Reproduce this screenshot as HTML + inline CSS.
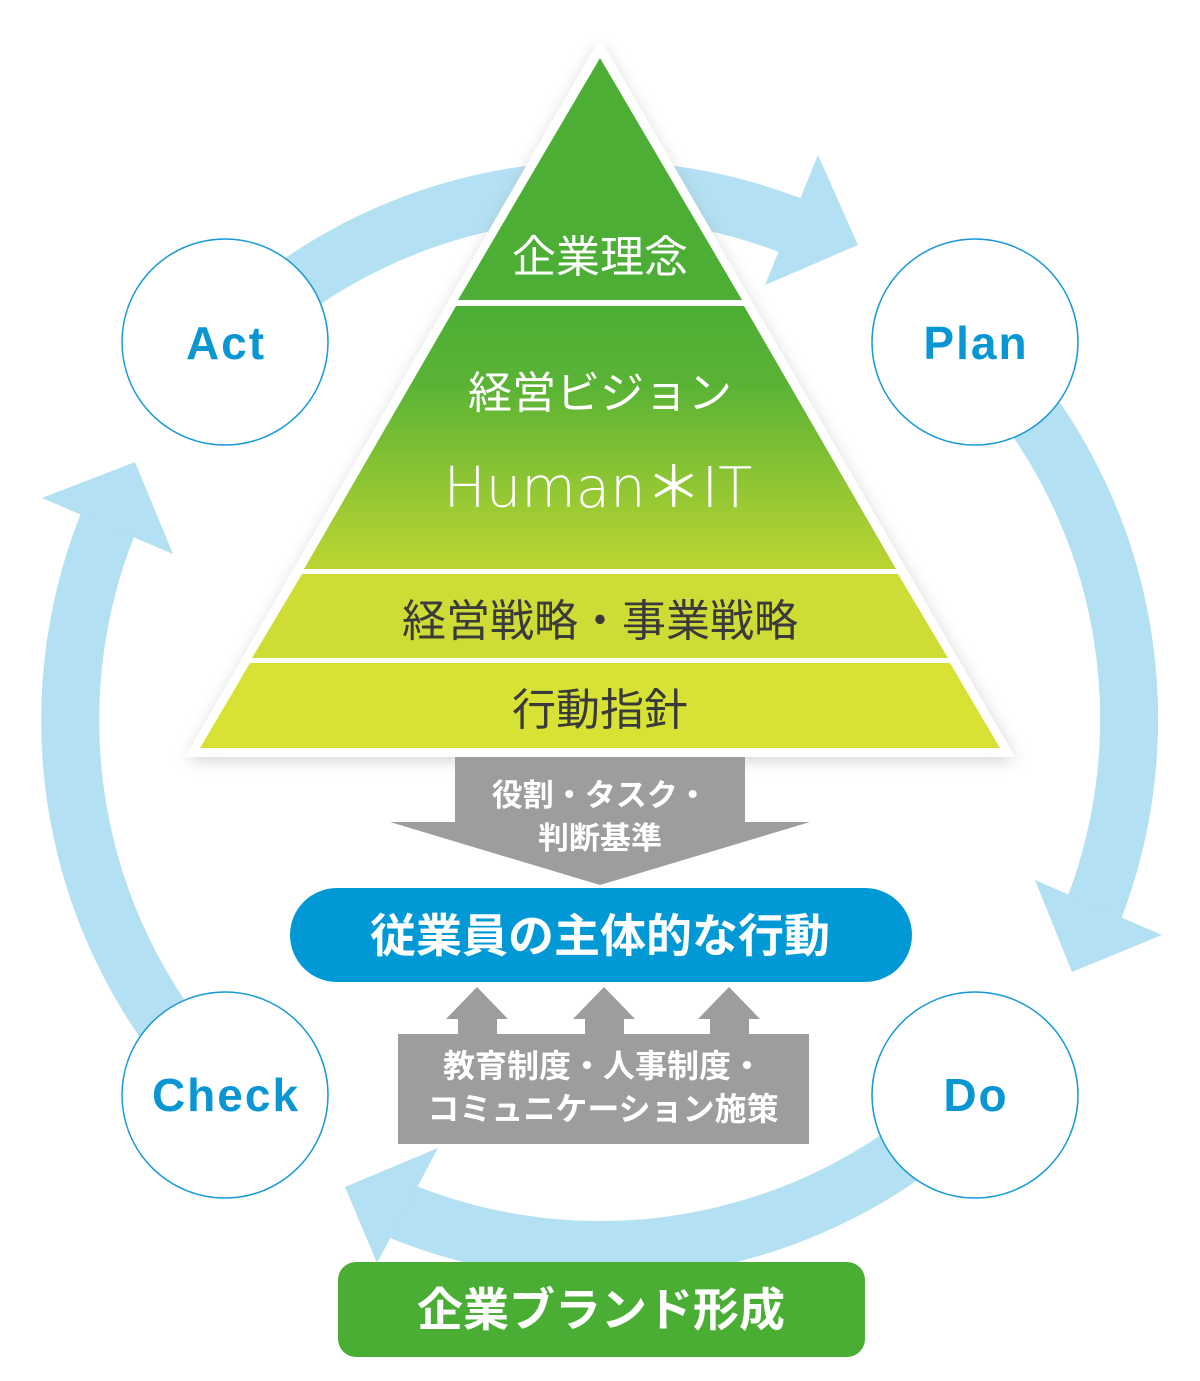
<!DOCTYPE html>
<html><head><meta charset="utf-8">
<style>
html,body{margin:0;padding:0;background:#fff;}
svg{display:block;}
.jp{font-family:"Liberation Sans","Noto Sans CJK JP",sans-serif;}
</style></head>
<body>
<svg width="1200" height="1381" viewBox="0 0 1200 1381" xmlns="http://www.w3.org/2000/svg">
<defs>
<linearGradient id="vg" x1="0" y1="0" x2="0" y2="1">
<stop offset="0" stop-color="#4cae35"/>
<stop offset="0.3" stop-color="#5ab335"/>
<stop offset="1" stop-color="#bcd532"/>
</linearGradient>
<filter id="sh" x="-20%" y="-20%" width="140%" height="140%">
<feGaussianBlur stdDeviation="8"/>
</filter>
</defs>
<g fill="none" stroke="#b3e0f2" stroke-width="58">
<path d="M 225.2 345.2 A 530 530 0 0 1 790.0 225.2"/>
<path d="M 974.8 345.2 A 530 530 0 0 1 1081.5 938.6"/>
<path d="M 974.8 1094.8 A 530 530 0 0 1 401.5 1211.4"/>
<path d="M 225.2 1094.8 A 530 530 0 0 1 120.0 496.0"/>
</g>
<g fill="#b3e0f2">
<polygon points="858,245 818,155 765,285"/>
<polygon points="1162,935 1035,880 1072,972"/>
<polygon points="345,1187 438,1148 377,1263"/>
<polygon points="42,498 135,462 173,554"/>
</g>
<g fill="#fff" stroke="#1a9ad6" stroke-width="1.5">
<circle cx="225" cy="342" r="103"/>
<circle cx="975" cy="342" r="103"/>
<circle cx="225" cy="1095" r="103"/>
<circle cx="975" cy="1095" r="103"/>
</g>
<g font-family="Liberation Sans, sans-serif" font-weight="bold" font-size="46" fill="#0a96d3" text-anchor="middle" letter-spacing="2">
<text x="226" y="359">Act</text>
<text x="976" y="359">Plan</text>
<text x="226" y="1111">Check</text>
<text x="976" y="1111">Do</text>
</g>
<polygon points="600,45 188,760 1015,760" fill="#999" opacity="0.45" filter="url(#sh)"/>
<polygon points="600,38 185,757 1015,757" fill="#fff"/>
<polygon points="600,58 458,300 742,300" fill="#4cae35"/>
<polygon points="456,306 744,306 896,569 304,569" fill="url(#vg)"/>
<polygon points="302,574 898,574 948,658 252,658" fill="#d0dc36"/>
<polygon points="250,663 950,663 1000,748 200,748" fill="#d8e235"/>
<g class="jp" text-anchor="middle">
<text x="600" y="272" font-size="44" fill="#fff">企業理念</text>
<text x="600" y="408" font-size="44" fill="#fff">経営ビジョン</text>
<text x="598" y="507" font-size="56" fill="#fff" font-family="DejaVu Sans, sans-serif" font-weight="300">Human＊IT</text>
<text x="600" y="636" font-size="44" fill="#3a3a3a">経営戦略・事業戦略</text>
<text x="600" y="725" font-size="44" fill="#3a3a3a">行動指針</text>
</g>
<polygon points="455,757 745,757 745,822 810,822 600,885 390,822 455,822" fill="#9d9d9c"/>
<g class="jp" text-anchor="middle" font-weight="bold" fill="#fff" font-size="31">
<text x="600" y="806">役割・タスク・</text>
<text x="600" y="849">判断基準</text>
</g>
<rect x="290" y="888" width="622" height="94" rx="47" fill="#0099d6"/>
<text class="jp" x="600" y="952" text-anchor="middle" font-weight="bold" font-size="46" fill="#fff">従業員の主体的な行動</text>
<g fill="#9d9d9c">
<polygon points="477,987 508,1019 497,1019 497,1040 458,1040 458,1019 446,1019"/>
<polygon points="604,987 635,1019 624,1019 624,1040 585,1040 585,1019 573,1019"/>
<polygon points="729,987 760,1019 749,1019 749,1040 710,1040 710,1019 698,1019"/>
<rect x="398" y="1034" width="411" height="110"/>
</g>
<g class="jp" text-anchor="middle" font-weight="bold" fill="#fff" font-size="32">
<text x="603" y="1077">教育制度・人事制度・</text>
<text x="603" y="1120">コミュニケーション施策</text>
</g>
<rect x="338" y="1262" width="527" height="95" rx="18" fill="#4aad34"/>
<text class="jp" x="601" y="1326" text-anchor="middle" font-weight="bold" font-size="46" fill="#fff">企業ブランド形成</text>
</svg>
</body></html>
